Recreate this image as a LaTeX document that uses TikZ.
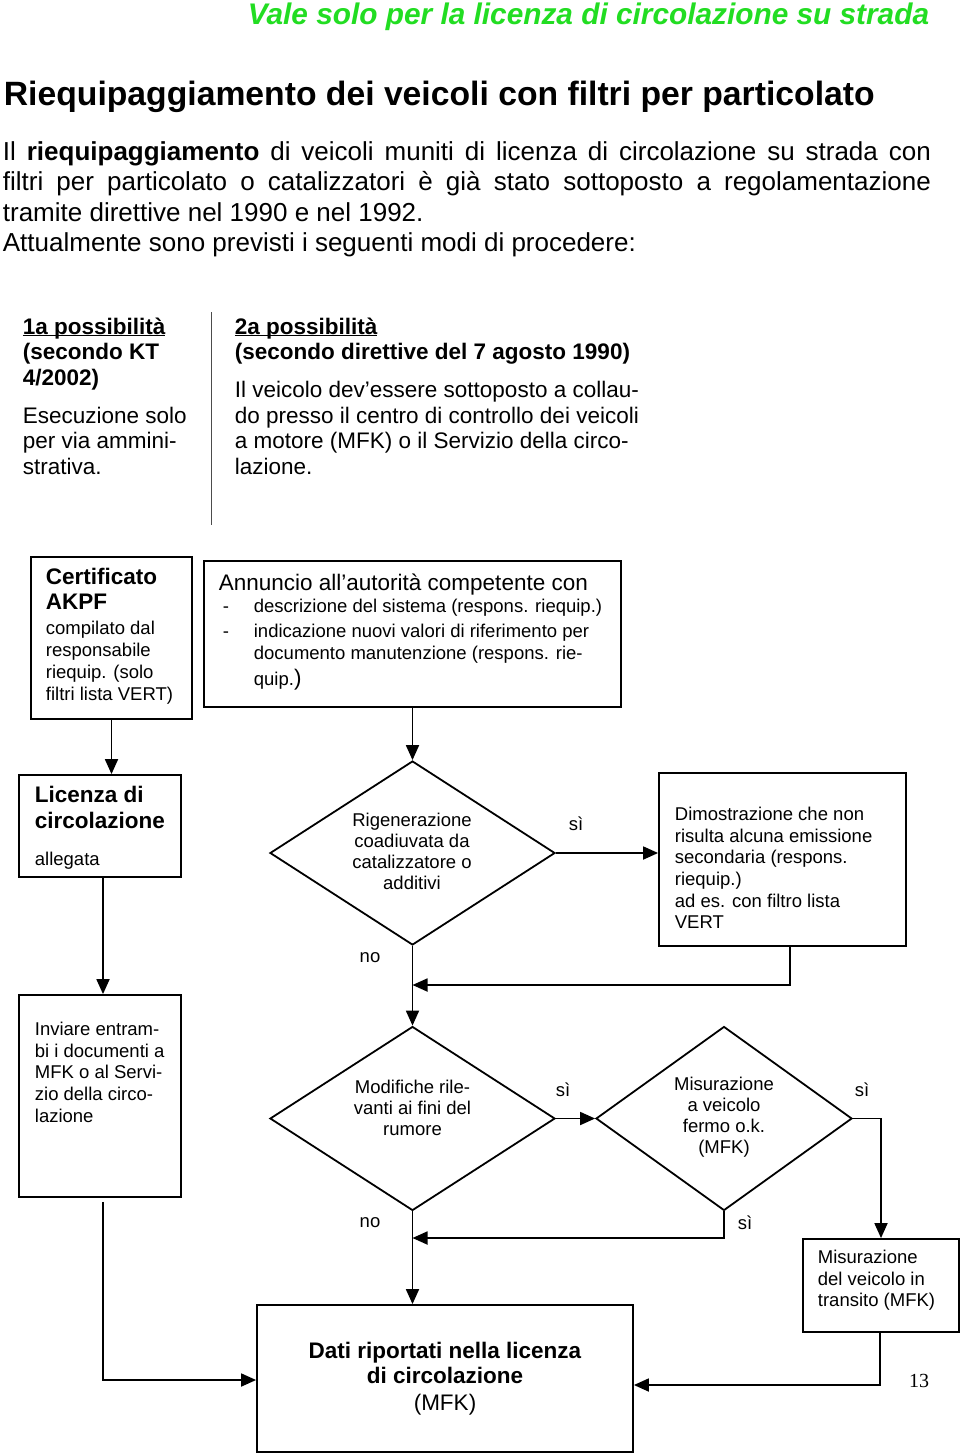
\documentclass[tikz,border=0pt]{standalone}
\usepackage{fontspec}
\setmainfont{Liberation Sans}
\newfontfamily\pagenumfont{Liberation Serif}
\usepackage{tikz}
\usetikzlibrary{arrows.meta, positioning, shapes.geometric}
\usepackage{xcolor}
\definecolor{titlegreen}{RGB}{34,221,34}
\setlength{\parindent}{0pt}
\newcommand{\boxhead}{\fontsize{22.5}{25.5}\selectfont}
\newcommand{\headline}[1]{\underline{\raisebox{0pt}[\height][0pt]{#1}}}

\begin{document}
\begin{tikzpicture}[x=1pt,y=-1pt,line width=1.8pt,>={Triangle[length=15pt,width=13pt]}]
  \tikzstyle{box}=[draw,rectangle,inner sep=0pt]
  \tikzstyle{decision}=[draw,diamond,inner sep=0pt,minimum height=184pt]
  \tikzstyle{txt}=[inner sep=0pt,anchor=north west,align=left,font=\fontsize{18.5}{21.7}\selectfont]
  \tikzstyle{ctxt}=[inner sep=0pt,align=center,font=\fontsize{18.5}{21}\selectfont]
  \tikzstyle{lbl}=[inner sep=0pt,font=\fontsize{18.5}{21}\selectfont]

  \fill[white] (0,0) rectangle (960,1453);

  % page head
  \node[anchor=base east,inner sep=0pt,text=titlegreen,font=\fontsize{29.8}{34}\selectfont\bfseries\itshape] (title) at (930,25) {Vale solo per la licenza di circolazione su strada};
  \node[anchor=base west,inner sep=0pt,font=\fontsize{33.7}{38}\selectfont\bfseries] (heading) at (3,106) {Riequipaggiamento dei veicoli con filtri per particolato};
  \node[anchor=north west,inner sep=0pt,text width=928pt,align=justify,font=\fontsize{26}{30.4}\selectfont] (intro) at (2,140.5)
    {Il \textbf{riequipaggiamento} di veicoli muniti di licenza di circolazione su strada con\linebreak filtri per particolato o catalizzatori è già stato sottoposto a regolamentazione\linebreak tramite direttive nel 1990 e nel 1992.\\Attualmente sono previsti i seguenti modi di procedere:};

  % two columns
  \node[anchor=north west,inner sep=0pt,align=left,font=\boxhead] (col_a) at (22,316.7)
    {\textbf{\headline{1a possibilità}}\\\textbf{(secondo KT}\\\textbf{4/2002)}\\[12.5pt]Esecuzione solo\\per via ammini-\\strativa.};
  \node[anchor=north west,inner sep=0pt,align=left,font=\boxhead] (col_b) at (234,316.7)
    {\textbf{\headline{2a possibilità}}\\\textbf{(secondo direttive del 7 agosto 1990)}\\[12.5pt]Il veicolo dev’essere sottoposto a collau-\\do presso il centro di controllo dei veicoli\\a motore (MFK) o il Servizio della circo-\\lazione.};
  \draw[line width=1pt,black!70] (211,312) -- (211,525);

  % boxes
  \node[box,minimum width=161pt,minimum height=162pt] (cert) at (111.5,638) {};
  \node[txt] (cert_txt) at (45,567.7)
    {{\boxhead\bfseries Certificato}\\[3.3pt]{\boxhead\bfseries AKPF}\\[3.3pt]compilato dal\\responsabile\\riequip. (solo\\filtri lista VERT)};
  \node[box,minimum width=417pt,minimum height=146pt] (ann) at (412.5,634) {};
  \node[txt] (ann_txt) at (218,572.7)
    {{\boxhead Annuncio all’autorità competente con}\\[0.3pt]
     \hspace*{4pt}\makebox[31pt][l]{-}descrizione del sistema (respons. riequip.)\\[3.3pt]
     \hspace*{4pt}\makebox[31pt][l]{-}indicazione nuovi valori di riferimento per\\[0.3pt]
     \hspace*{35pt}documento manutenzione (respons. rie-\\[4.3pt]
     \hspace*{35pt}quip.{\boxhead)}};
  \node[box,minimum width=162pt,minimum height=102pt] (lic) at (100,826) {};
  \node[txt] (lic_txt) at (34,785.7)
    {{\boxhead\bfseries Licenza di}\\[4.3pt]{\boxhead\bfseries circolazione}\\[15.3pt]allegata};
  \node[decision,minimum width=285pt] (d1) at (412.5,853) {};
  \node[ctxt] (d1_txt) at (412,851.5) {Rigenerazione\\coadiuvata da\\catalizzatore o\\additivi};
  \node[box,minimum width=247pt,minimum height=173pt] (dim) at (782.5,859.5) {};
  \node[txt] (dim_txt) at (674,806)
    {Dimostrazione che non\\risulta alcuna emissione\\secondaria (respons.\\riequip.)\\ad es. con filtro lista\\VERT};
  \node[box,minimum width=162pt,minimum height=202pt] (inv) at (100,1096) {};
  \node[txt] (inv_txt) at (34,1021)
    {Inviare entram-\\bi i documenti a\\MFK o al Servi-\\zio della circo-\\lazione};
  \node[decision,minimum width=285pt] (d2) at (412.5,1118.5) {};
  \node[ctxt] (d2_txt) at (412.5,1108) {Modifiche rile-\\vanti ai fini del\\rumore};
  \node[decision,minimum width=256pt] (d3) at (724,1118.5) {};
  \node[ctxt] (d3_txt) at (724,1117) {Misurazione\\a veicolo\\fermo o.k.\\(MFK)};
  \node[box,minimum width=156pt,minimum height=93pt] (trans) at (881,1285.5) {};
  \node[txt] (trans_txt) at (817,1249) {Misurazione\\del veicolo in\\transito (MFK)};
  \node[box,minimum width=376pt,minimum height=147pt,align=center,font=\boxhead] (dati) at (445,1378.5)
    {\textbf{Dati riportati nella licenza}\\\textbf{di circolazione}\\[1pt](MFK)};
  \node[inner sep=0pt,font=\pagenumfont\fontsize{20}{24}\selectfont] (page_no) at (919,1381) {13};

  \coordinate (j1) at (412.5,985);
  \coordinate (j2) at (412.5,1238);

  % connectors
  \draw[->] (cert.south) -- (cert.south |- lic.north);
  \draw[->] (ann.south -| d1.north) -- (d1.north);
  \draw[->] ([xshift=3pt]lic.south) -- ([xshift=3pt]inv.north);
  \draw[->] (d1.east) -- (d1.east -| dim.west);
  \draw[->] (d1.south) -- (d2.north);
  \draw[->] ([xshift=7.5pt]dim.south) |- (j1);
  \draw[->] (d2.east) -- (d3.west);
  \draw[->] (d3.east) -| (trans.north);
  \draw[->] (d3.south) |- (j2);
  \draw[->] (d2.south) -- (d2.south |- dati.north);
  \draw[->] ([xshift=3pt,yshift=-4pt]inv.south) |- ([yshift=-1.5pt]dati.west);
  \draw[->] ([xshift=-1pt]trans.south) |- ([yshift=-6.5pt]dati.east);

  % branch labels
  \node[lbl] (l_d1_yes) at (576,824) {sì};
  \node[lbl] (l_d1_no)  at (370,958) {no};
  \node[lbl] (l_d2_yes) at (563,1090) {sì};
  \node[lbl] (l_d3_yes) at (862,1090) {sì};
  \node[lbl] (l_d2_no)  at (370,1223) {no};
  \node[lbl] (l_d3_ok)  at (745,1223) {sì};
\end{tikzpicture}
\end{document}
